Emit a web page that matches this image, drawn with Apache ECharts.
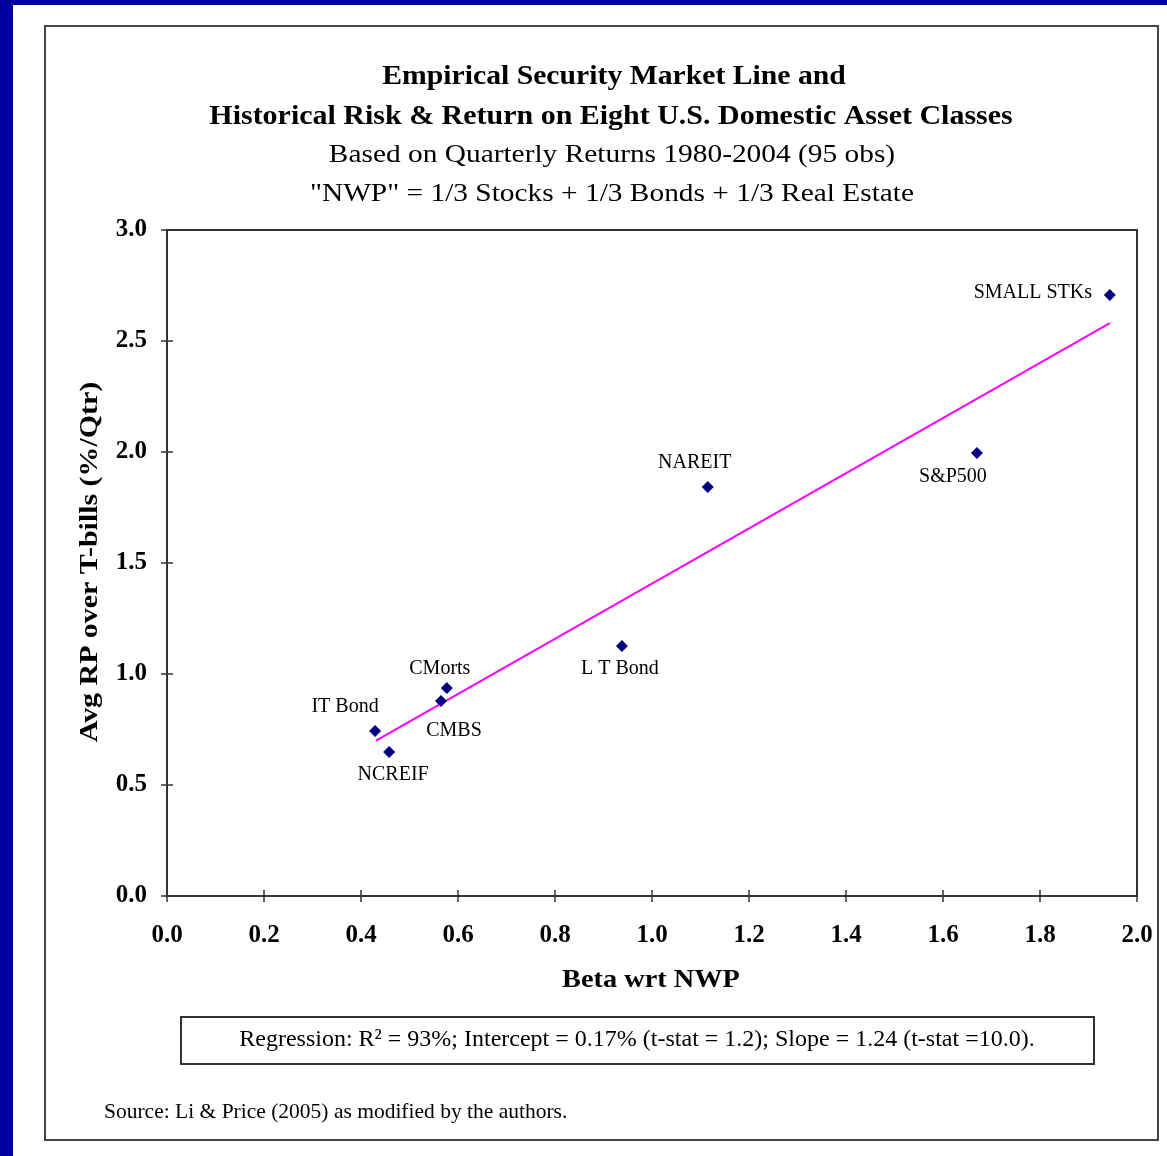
<!DOCTYPE html>
<html><head><meta charset="utf-8">
<script src="https://cdn.jsdelivr.net/npm/echarts@6/dist/echarts.min.js"></script>
<style>html,body{margin:0;padding:0;background:#fff}#c{width:1167px;height:1156px}</style>
</head><body><div id="c"></div>
<script>
const assetNames = ['SMALL STKs','S&P500','NAREIT','L T Bond','CMorts','CMBS','IT Bond','NCREIF'];
const betaValues = [1.944, 1.670, 1.115, 0.938, 0.577, 0.565, 0.429, 0.458];
const riskPremiumValues = [2.707, 1.995, 1.842, 1.126, 0.937, 0.878, 0.743, 0.649];
const regressionLine = [[0.431, 0.70], [1.944, 2.58]];
const xTicks = [0.0,0.2,0.4,0.6,0.8,1.0,1.2,1.4,1.6,1.8,2.0];
const yTicks = [0.0,0.5,1.0,1.5,2.0,2.5,3.0];
const labelOffsets = [[-77,-2],[-24,24],[-13,-24],[-2,23],[-7,-19],[13,30],[-30,-24],[4,23]];

const F = 'Liberation Serif, Times New Roman, serif';
const chart = echarts.init(document.getElementById('c'));
const gridBox = {left:167, top:230, width:970, height:666};
function axisPair(kind){
  const base = {
    type:'value', gridIndex:0, min:0, max: kind==='x'?2:3, interval: kind==='x'?0.2:0.5,
    position: kind==='x'?'bottom':'left', offset:0,
    axisLine:{show:true, onZero:false, lineStyle:{color:'#333', width:2}},
    splitLine:{show:false}
  };
  return [
    Object.assign({}, base, {
      axisTick:{show:true, inside:false, length:6, lineStyle:{color:'#333', width:1.5}},
      axisLabel:{show:true, color:'#000', fontFamily:F, fontWeight:'bold', fontSize:25,
        margin: kind==='x'?27:20, formatter:v=>v.toFixed(1)}
    }),
    Object.assign({}, base, {
      axisTick:{show:true, inside:true, length:6, lineStyle:{color:'#333', width:1.5}},
      axisLabel:{show:false}
    })
  ];
}
const data = betaValues.map((b,i)=>({
  value:[b, riskPremiumValues[i]], name: assetNames[i],
  label:{offset: labelOffsets[i]}
}));
function txt(x,y,text,font,sx,extra){
  return Object.assign({type:'text', x:x, y:y, scaleX:sx||1,
    style:{text:text, font:font, fill:'#000', align:'center', verticalAlign:'middle'}}, extra||{});
}
chart.setOption({
  backgroundColor:'#fff',
  animation:false,
  grid:[Object.assign({show:true, borderColor:'#333', borderWidth:2}, gridBox)],
  xAxis:axisPair('x'),
  yAxis:axisPair('y'),
  graphic:[
    {type:'rect', shape:{x:0,y:0,width:1167,height:5}, style:{fill:'#0000A0'}, silent:true},
    {type:'rect', shape:{x:0,y:0,width:13,height:1156}, style:{fill:'#0000A0'}, silent:true},
    {type:'rect', shape:{x:45,y:26,width:1113,height:1114}, style:{fill:'none', stroke:'#444', lineWidth:2}, silent:true},
    txt(614, 77, 'Empirical Security Market Line and', 'bold 27px '+F, 1.1),
    txt(611, 117, 'Historical Risk & Return on Eight U.S. Domestic Asset Classes', 'bold 27px '+F, 1.11),
    txt(612, 155, 'Based on Quarterly Returns 1980-2004 (95 obs)', '26px '+F, 1.13),
    txt(612, 194, '"NWP" = 1/3 Stocks + 1/3 Bonds + 1/3 Real Estate', '26px '+F, 1.13),
    txt(90, 562, 'Avg RP over T-bills (%/Qtr)', 'bold 26px '+F, 1.15, {rotation:Math.PI/2}),
    txt(651, 980, 'Beta wrt NWP', 'bold 26px '+F, 1.09),
    {type:'rect', shape:{x:181,y:1017,width:913,height:47}, style:{fill:'#fff', stroke:'#333', lineWidth:2}},
    txt(637, 1040, 'Regression: R² = 93%; Intercept = 0.17% (t-stat = 1.2); Slope = 1.24 (t-stat =10.0).', '24px '+F, 1),
    {type:'text', x:104, y:1112, style:{text:'Source: Li & Price (2005) as modified by the authors.', font:'21.5px '+F, fill:'#000', align:'left', verticalAlign:'middle'}}
  ],
  series:[
    {type:'line', xAxisIndex:0, yAxisIndex:0, data:regressionLine, showSymbol:false, symbol:'none',
     lineStyle:{color:'#FF00FF', width:2}, z:2},
    {type:'scatter', xAxisIndex:0, yAxisIndex:0, data:data, symbol:'diamond', symbolSize:12,
     itemStyle:{color:'#000080', opacity:1}, z:3,
     label:{show:true, position:'inside', formatter:p=>p.name, color:'#000', fontFamily:F, fontSize:20,
       textBorderWidth:0}},
    {type:'scatter', xAxisIndex:1, yAxisIndex:1, data:[], silent:true}
  ]
});
</script></body></html>
